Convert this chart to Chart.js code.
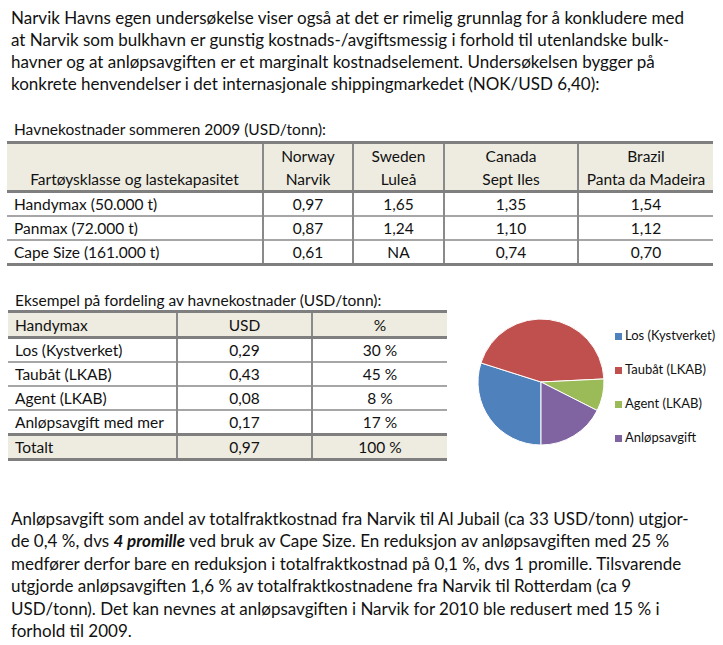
<!DOCTYPE html>
<html lang="no">
<head>
<meta charset="utf-8">
<title>Havnekostnader Narvik</title>
<script src="https://cdn.jsdelivr.net/npm/chart.js@4.4.1/dist/chart.umd.min.js"></script>
<style>
  html, body { margin: 0; padding: 0; }
  body {
    width: 723px; height: 645px; overflow: hidden; position: relative; background: #fff;
    font-family: Lato, 'Open Sans', sans-serif; font-size: 15.5px; color: #111;
  }
  .txt { position: absolute; left: 11px; font-size: 17px; line-height: 22px; white-space: nowrap; }
  .cap { position: absolute; line-height: 21px; white-space: nowrap; }
  table { position: absolute; border-collapse: collapse; table-layout: fixed;
          border-top: 3px solid #7f7f7f; border-bottom: 3px solid #7f7f7f; }
  td { padding: 0 7px; height: 22px; line-height: 20px; white-space: nowrap; text-align: center;
       border-left: 2px solid #8a8a8a; border-top: 2px solid #a6a6a6; }
  td:first-child { border-left: none; text-align: left; }
  tr.head td { background: #eeece1; border-top: none; height: 23px; }
  tr.head.last td { border-bottom: 3px solid #7f7f7f; }
  tr.total td { background: #eeece1; border-top: 3px solid #7f7f7f; height: 22px; }
  #costTable tr.head td:first-child { text-align: center; }
  #pieWrap { position: absolute; left: 470px; top: 311px; width: 142px; height: 142px; }
  #pieLegend { position: absolute; left: 615px; top: 324px; margin: 0; padding: 0;
               list-style: none; font-size: 13px; white-space: nowrap; }
  #pieLegend li { height: 34px; line-height: 22px; }
  #pieLegend .box { display: inline-block; width: 7px; height: 7px; margin: 0 3px 1px 0; vertical-align: middle; }
</style>
</head>
<body>

<div class="txt" style="top:7px">
  Narvik Havns egen undersøkelse viser også at det er rimelig grunnlag for å konkludere med<br>
  at Narvik som bulkhavn er gunstig kostnads-/avgiftsmessig i forhold til utenlandske bulk-<br>
  havner og at anløpsavgiften er et marginalt kostnadselement. Undersøkelsen bygger på<br>
  konkrete henvendelser i det internasjonale shippingmarkedet (NOK/USD 6,40):
</div>

<div class="cap" style="left:14px; top:119px">Havnekostnader sommeren 2009 (USD/tonn):</div>
<table id="costTable" style="left:7px; top:141px; width:706px">
  <colgroup><col style="width:256px"><col style="width:90px"><col style="width:91px"><col style="width:134px"><col style="width:135px"></colgroup>
  <tbody></tbody>
</table>

<div class="cap" style="left:15px; top:290px">Eksempel på fordeling av havnekostnader (USD/tonn):</div>
<table id="shareTable" style="left:8px; top:310px; width:439px">
  <colgroup><col style="width:169px"><col style="width:135px"><col style="width:135px"></colgroup>
  <tbody></tbody>
</table>

<div id="pieWrap"><canvas id="chartShare"></canvas></div>
<ul id="pieLegend"></ul>

<div class="txt" style="top:508px; line-height:22.4px">
  Anløpsavgift som andel av totalfraktkostnad fra Narvik til Al Jubail (ca 33 USD/tonn) utgjor-<br>
  de 0,4 %, dvs <b><i>4 promille</i></b> ved bruk av Cape Size. En reduksjon av anløpsavgiften med 25 %<br>
  medfører derfor bare en reduksjon i totalfraktkostnad på 0,1 %, dvs 1 promille. Tilsvarende<br>
  utgjorde anløpsavgiften 1,6 % av totalfraktkostnadene fra Narvik til Rotterdam (ca 9<br>
  USD/tonn). Det kan nevnes at anløpsavgiften i Narvik for 2010 ble redusert med 15 % i<br>
  forhold til 2009.
</div>

<script>
'use strict';

/* ── DATA: havnekostnader sommeren 2009 (USD/tonn) ── */
const COUNTRIES   = ['Norway', 'Sweden', 'Canada', 'Brazil'];
const PORTS       = ['Narvik', 'Luleå', 'Sept Iles', 'Panta da Madeira'];
const VESSELS     = ['Handymax (50.000 t)', 'Panmax (72.000 t)', 'Cape Size (161.000 t)'];
const COST_NARVIK = [0.97, 0.87, 0.61];
const COST_LULEA  = [1.65, 1.24, null];
const COST_SEPT   = [1.35, 1.10, 0.74];
const COST_PANTA  = [1.54, 1.12, 0.70];

/* ── DATA: fordeling av havnekostnader, Handymax ── */
const ITEMS        = ['Los (Kystverket)', 'Taubåt (LKAB)', 'Agent (LKAB)', 'Anløpsavgift med mer'];
const LEGEND_NAMES = ['Los (Kystverket)', 'Taubåt (LKAB)', 'Agent (LKAB)', 'Anløpsavgift'];
const ITEM_USD     = [0.29, 0.43, 0.08, 0.17];
const ITEM_PCT     = [30, 45, 8, 17];
const TOTAL_USD    = 0.97;
const TOTAL_PCT    = 100;
const SLICE_COLORS = ['#4F81BD', '#C0504D', '#9BBB59', '#8064A2'];

/* ── Utilities ── */
const fmt = v => v == null ? 'NA' : v.toFixed(2).replace('.', ',');
const row = (cls, cells) => `<tr class="${cls}">${cells.map(c => `<td>${c}</td>`).join('')}</tr>`;

/* ── Tables ── */
function buildCostTable() {
  const cols = [COST_NARVIK, COST_LULEA, COST_SEPT, COST_PANTA];
  let html = row('head', [''].concat(COUNTRIES));
  html += row('head last', ['Fartøysklasse og lastekapasitet'].concat(PORTS));
  VESSELS.forEach((v, i) => {
    html += row('', [v].concat(cols.map(c => fmt(c[i]))));
  });
  document.querySelector('#costTable tbody').innerHTML = html;
}

function buildShareTable() {
  let html = row('head last', ['Handymax', 'USD', '%']);
  ITEMS.forEach((name, i) => {
    html += row('', [name, fmt(ITEM_USD[i]), ITEM_PCT[i] + ' %']);
  });
  html += row('total', ['Totalt', fmt(TOTAL_USD), TOTAL_PCT + ' %']);
  document.querySelector('#shareTable tbody').innerHTML = html;
}

/* ── Pie chart + HTML legend ── */
function initPie() {
  const chart = new Chart(document.getElementById('chartShare'), {
    type: 'pie',
    data: {
      labels: LEGEND_NAMES,
      datasets: [{
        data: ITEM_USD,
        backgroundColor: SLICE_COLORS,
        borderColor: '#ffffff',
        borderWidth: 1,
      }],
    },
    options: {
      responsive: true,
      maintainAspectRatio: false,
      animation: false,
      rotation: 180,
      radius: 63,
      plugins: {
        legend: { display: false },
        tooltip: { enabled: false },
      },
    },
  });

  const items = chart.options.plugins.legend.labels.generateLabels(chart);
  document.getElementById('pieLegend').innerHTML = items.map(it =>
    `<li><span class="box" style="background:${it.fillStyle}"></span>${it.text}</li>`
  ).join('');
}

buildCostTable();
buildShareTable();
initPie();
</script>
</body>
</html>
